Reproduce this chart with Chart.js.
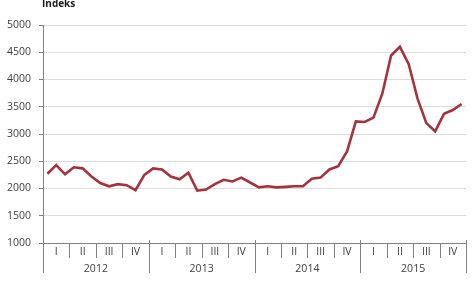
<!DOCTYPE html>
<html>
<head>
<meta charset="utf-8">
<script src="https://cdn.jsdelivr.net/npm/chart.js@4.4.1/dist/chart.umd.min.js"></script>
<style>
html, body { margin: 0; padding: 0; background: #fff; }
#wrap { width: 475px; height: 282px; }
</style>
</head>
<body>
<div id="wrap"><canvas id="chart"></canvas></div>
<script>
// årstall og kvartal til x-aksen
const years = ['2012', '2013', '2014', '2015'];
const quarters = ['I', 'II', 'III', 'IV'];
const monthNames = ['01', '02', '03', '04', '05', '06', '07', '08', '09', '10', '11', '12'];

// indeks per måned, lest av figuren
const index2012 = [2270, 2430, 2260, 2390, 2370, 2220, 2100, 2040, 2080, 2060, 1970, 2250];
const index2013 = [2370, 2350, 2220, 2170, 2290, 1960, 1980, 2080, 2160, 2130, 2200, 2110];
const index2014 = [2020, 2040, 2020, 2030, 2040, 2040, 2180, 2200, 2350, 2410, 2680, 3230];
const index2015 = [3220, 3300, 3740, 4440, 4600, 4280, 3650, 3200, 3050, 3370, 3440, 3550];

const yTicks = [1000, 1500, 2000, 2500, 3000, 3500, 4000, 4500, 5000];

const months = [];
years.forEach(y => monthNames.forEach(m => months.push(y + '-' + m)));
const values = [].concat(index2012, index2013, index2014, index2015);

const FONT = '"Open Sans", "DejaVu Sans", sans-serif';

// tegner kvartal- og årsetiketter under aksen
const periodAxis = {
  id: 'periodAxis',
  afterDraw(chart) {
    const { ctx, chartArea: a, scales: { x } } = chart;
    const step = x.getPixelForValue(1) - x.getPixelForValue(0);
    const edge = k => x.getPixelForValue(k) - step / 2;
    ctx.save();
    ctx.strokeStyle = '#808080';
    ctx.lineWidth = 1;
    // x-akse
    ctx.beginPath();
    ctx.moveTo(a.left, a.bottom + 0.5);
    ctx.lineTo(a.right, a.bottom + 0.5);
    ctx.stroke();
    ctx.fillStyle = '#404040';
    ctx.font = '10.5px ' + FONT;
    ctx.textAlign = 'center';
    ctx.textBaseline = 'middle';
    for (let q = 0; q <= years.length * 4; q++) {
      const px = Math.round(edge(q * 3)) + 0.5;
      const isYear = q % 4 === 0;
      ctx.beginPath();
      ctx.moveTo(px, isYear ? a.bottom - 3 : a.bottom);
      ctx.lineTo(px, isYear ? a.bottom + 30 : a.bottom + 15);
      ctx.stroke();
      if (q < years.length * 4) {
        const cx = (edge(q * 3) + edge(q * 3 + 3)) / 2;
        ctx.fillText(quarters[q % 4], cx, a.bottom + 9);
      }
    }
    years.forEach((y, i) => {
      const cx = (edge(i * 12) + edge(i * 12 + 12)) / 2;
      ctx.fillText(y, cx, a.bottom + 26);
    });
    // tittel
    ctx.font = 'bold 10px ' + FONT;
    ctx.textAlign = 'left';
    ctx.textBaseline = 'alphabetic';
    ctx.fillStyle = '#1a1a1a';
    ctx.fillText('Indeks', 42, 7);
    ctx.restore();
  }
};

new Chart(document.getElementById('chart'), {
  type: 'line',
  data: {
    labels: months,
    datasets: [{
      data: values,
      borderColor: '#a3333d',
      borderWidth: 2.6,
      pointRadius: 0,
      tension: 0,
      fill: false
    }]
  },
  options: {
    responsive: true,
    maintainAspectRatio: false,
    animation: false,
    devicePixelRatio: 1,
    layout: { padding: { top: 25, right: 9, bottom: 39, left: 0 } },
    plugins: { legend: { display: false }, tooltip: { enabled: false } },
    scales: {
      x: { type: 'category', display: false, offset: true },
      y: {
        min: 1000,
        max: 5000,
        afterFit: s => { s.width = 43; },
        afterBuildTicks: s => { s.ticks = yTicks.map(v => ({ value: v })); },
        ticks: {
          color: '#404040',
          font: { family: FONT, size: 10.5 },
          padding: 8,
          callback: v => String(v)
        },
        grid: { color: '#dcdcdc', tickColor: '#808080', tickLength: 4 },
        border: { color: '#808080' }
      }
    }
  },
  plugins: [periodAxis]
});
</script>
</body>
</html>
